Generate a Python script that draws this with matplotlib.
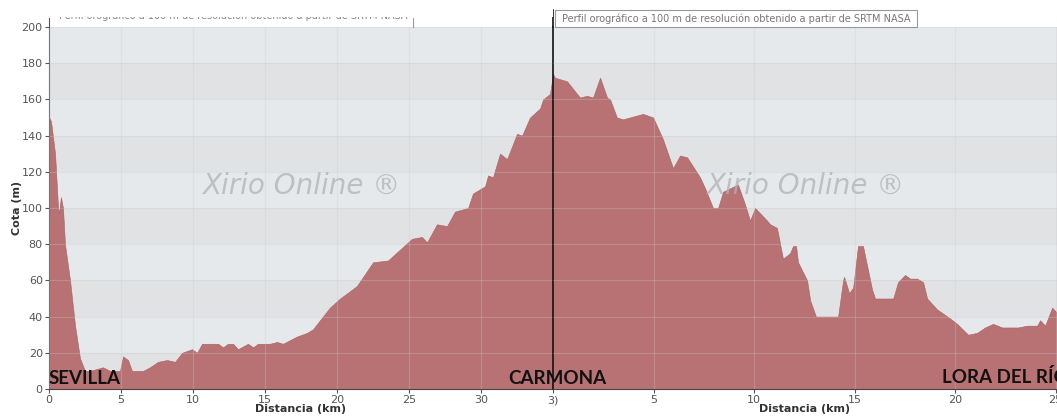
import matplotlib.pyplot as plt
from matplotlib.patches import Rectangle

# Sevilla -> Carmona profile (km, m)
dist_a = [0, 0.14, 0.42, 0.63, 0.69, 0.83, 0.97, 1.11, 1.46, 1.81, 2.15, 2.5, 2.85, 3.75, 4.24,
          4.93, 5.14, 5.49, 5.76, 6.53, 7.01, 7.57, 8.19, 8.75, 9.24, 9.58, 9.93, 10.28, 10.63,
          11.74, 12.08, 12.43, 12.78, 13.13, 13.82, 14.17, 14.51, 15.35, 15.83, 16.25, 16.74,
          17.22, 17.92, 18.33, 18.82, 19.51, 20.21, 20.9, 21.39, 22.5, 23.54, 25.21, 25.9,
          26.25, 26.94, 27.64, 28.19, 29.1, 29.44, 30.28, 30.49, 30.83, 31.32, 31.81, 32.5,
          32.85, 33.4, 34.1, 34.31, 34.79, 35.0]
elev_a = [150, 148, 130, 100, 97, 106, 100, 80, 60, 35, 17, 10, 10, 12, 10,
          10, 18, 16, 10, 10, 12, 15, 16, 15, 20, 21, 22, 20, 25,
          25, 23, 25, 25, 22, 25, 23, 25, 25, 26, 25, 27,
          29, 31, 33, 38, 45, 50, 54, 57, 70, 71, 83, 84,
          81, 91, 90, 98, 100, 108, 112, 118, 117, 130, 127, 141,
          140, 150, 155, 160, 163, 174]

# Carmona -> Lora del Rio profile (km, m)
dist_b = [0, 0.1, 0.7, 1.34, 1.69, 1.99, 2.34, 2.69, 2.84, 3.18, 3.48, 4.48, 4.98, 5.47, 5.97,
          6.32, 6.67, 7.31, 7.56, 7.96, 8.21, 8.46, 9.2, 9.55, 9.8, 10.05, 10.65, 10.8, 11.14,
          11.44, 11.79, 11.94, 12.09, 12.19, 12.64, 12.79, 13.08, 14.18, 14.43, 14.48, 14.73,
          14.93, 15.17, 15.42, 15.87, 16.02, 16.92, 17.16, 17.51, 17.76, 18.11, 18.41, 18.61,
          19.1, 19.75, 20.1, 20.65, 21.09, 21.49, 21.89, 22.34, 22.74, 23.13, 23.58, 24.08,
          24.23, 24.48, 24.83, 25.07]
elev_b = [174, 172, 170, 161, 162, 161, 172, 161, 160, 150, 149, 152, 150, 138, 122,
          129, 128, 117, 111, 100, 100, 109, 113, 102, 93, 100, 93, 91, 89,
          72, 75, 79, 79, 70, 60, 49, 40, 40, 60, 62, 53,
          56, 79, 79, 55, 50, 50, 59, 63, 61, 61, 59, 50,
          44, 39, 36, 30, 31, 34, 36, 34, 34, 34, 35, 35,
          38, 35, 45, 42]

ticks_a = [0, 5, 10, 15, 20, 25, 30, 35]
ticklabels_a = ['0', '5', '10', '15', '20', '25', '30', '3)']
ticks_b = [5, 10, 15, 20, 25]
yticks = [0, 20, 40, 60, 80, 100, 120, 140, 160, 180, 200]

title = 'Perfil orográfico a 100 m de resolución obtenido a partir de SRTM NASA'
fill_color = '#b97274'
W, H = 1057, 417

fig = plt.figure(figsize=(W / 100, H / 100), dpi=100)
fig.patch.set_facecolor('white')


def px(x0, y0, x1, y1):
    return [x0 / W, 1 - y1 / H, (x1 - x0) / W, (y1 - y0) / H]


ax1 = fig.add_axes(px(49, 27, 553, 389))
ax2 = fig.add_axes(px(553, 27, 1057, 389))

for ax, d, e, xmax in [(ax1, dist_a, elev_a, 35), (ax2, dist_b, elev_b, 25.07)]:
    for k in range(10):
        ax.axhspan(k * 20, k * 20 + 20, color='#e6e9ec' if k % 2 else '#e1e2e4', lw=0, zorder=0)
    ax.fill_between(d, e, 0, color=fill_color, lw=0.4, edgecolor='#a8605f', zorder=2)
    ax.set_xlim(0, xmax)
    ax.set_ylim(0, 200)
    ax.set_yticks(yticks)
    ax.grid(True, color='#c9cacc', lw=0.8, zorder=1)
    ax.set_axisbelow(False)
    for s in ['top', 'right']:
        ax.spines[s].set_visible(False)
    ax.spines['bottom'].set_color('#444444')
    ax.tick_params(colors='#555555', labelsize=8, length=3, width=0.8, pad=1.5)
    ax.set_xlabel('Distancia (km)', fontsize=8, fontweight='bold', color='#333333', labelpad=-1)
    ax.text(0.5, 0.56, 'Xirio Online ®', transform=ax.transAxes, ha='center', va='center',
            fontsize=20, style='italic', color='#b0b3b6', alpha=0.75, zorder=3)

# grid lines drawn over fill lightly
for ax in (ax1, ax2):
    for gl in ax.get_xgridlines() + ax.get_ygridlines():
        gl.set_alpha(0.3)

ax1.set_xticks(ticks_a)
ax1.set_xticklabels(ticklabels_a)
ax1.spines['left'].set_color('#555555')
ax1.set_ylabel('Cota (m)', fontsize=8, fontweight='bold', color='#333333')
ax1.yaxis.set_label_coords(-27 / 504, 0.5)

ax2.set_xticks(ticks_b)
ax2.tick_params(axis='y', left=False, labelleft=False)
ax2.spines['left'].set_color('#111111')
ax2.spines['left'].set_linewidth(1.2)

# title boxes
fig.text(233 / W, 1 - 16 / H, title, ha='center', va='center', fontsize=7, color='#888888')
fig.patches.append(Rectangle((0, 1 - 17 / H), 553 / W, 17 / H, transform=fig.transFigure,
                             facecolor='white', edgecolor='none', zorder=5))
fig.add_artist(plt.Line2D([413 / W, 413 / W], [1 - 18 / H, 1 - 27 / H], color='#999999', lw=0.8))
fig.add_artist(plt.Line2D([49 / W, 49 / W], [1 - 18 / H, 1 - 27 / H], color='#555555', lw=0.8))

fig.patches.append(Rectangle((555 / W, 1 - 27 / H), 362 / W, 17 / H, transform=fig.transFigure,
                             facecolor='white', edgecolor='#999999', lw=0.8, zorder=4))
fig.text(736 / W, 1 - 18.5 / H, title, ha='center', va='center', fontsize=7, color='#777777',
         zorder=6)
fig.add_artist(plt.Line2D([553 / W, 553 / W], [1 - 10 / H, 1 - 27 / H], color='#111111', lw=1.2))

# town labels
lab = dict(fontsize=13.5, fontweight='bold', color='#111111', family=['Lato', 'DejaVu Sans'],
           va='center', zorder=7)
fig.text(49 / W, 1 - 378 / H, 'SEVILLA', ha='left', **lab)
fig.text(557 / W, 1 - 379 / H, 'CARMONA', ha='center', **lab)
fig.text(942 / W, 1 - 377 / H, 'LORA DEL RÍO', ha='left', **lab)

fig.savefig('out.png', dpi=100)
